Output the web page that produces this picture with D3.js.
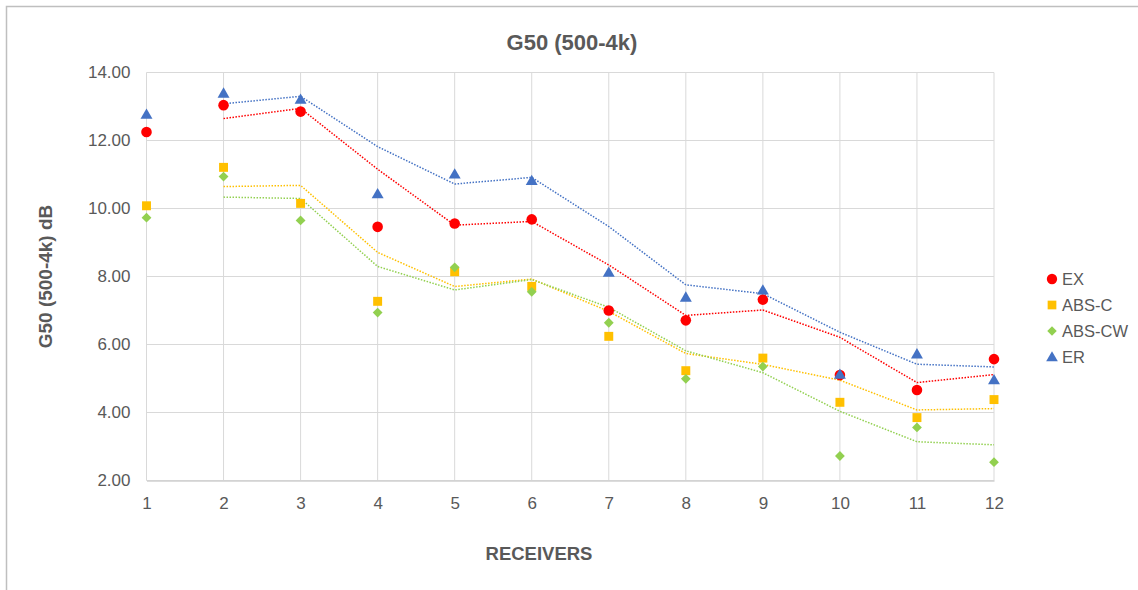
<!DOCTYPE html>
<html>
<head>
<meta charset="utf-8">
<script src="https://cdn.jsdelivr.net/npm/d3@7"></script>
<style>
html,body{margin:0;padding:0;background:#fff;}
svg{display:block;font-family:"Liberation Sans",Arial,Helvetica,sans-serif;}
</style>
</head>
<body>
<svg id="chart" width="1138" height="590"></svg>
<script>
const receivers = [1,2,3,4,5,6,7,8,9,10,11,12];
const yTicks = [2,4,6,8,10,12,14];
const seriesNames = ["EX","ABS-C","ABS-CW","ER"];
const seriesColors = ["#FF0000","#FFC000","#92D050","#4472C4"];
const exValues    = [12.25,13.04,12.85,9.46,9.56,9.68,7.00,6.71,7.32,5.10,4.66,5.57];
const absCValues  = [10.08,11.21,10.15,7.27,8.14,7.71,6.24,5.23,5.60,4.30,3.85,4.38];
const absCWValues = [9.73,10.94,9.65,6.94,8.27,7.55,6.64,4.99,5.35,2.72,3.56,2.54];
const erValues    = [12.77,13.39,13.21,10.43,11.01,10.82,8.12,7.39,7.60,5.12,5.72,4.96];
const seriesValues = [exValues, absCValues, absCWValues, erValues];

(function(){
const squareDiamond = {
  draw(ctx, size){
    const r = Math.sqrt(size/2);
    ctx.moveTo(0,-r); ctx.lineTo(r,0); ctx.lineTo(0,r); ctx.lineTo(-r,0); ctx.closePath();
  }
};
const symbols = [d3.symbolCircle, d3.symbolSquare, squareDiamond, d3.symbolTriangle];
const symSizes = [88, 80, 48, 62];

const svg = d3.select("#chart");
const W = 1138, H = 590;
const pl = 146.5, pr = 994, pt = 72.5, pb = 480.5;

// outer frame
svg.append("rect").attr("x",6.5).attr("y",6.5).attr("width",W+20).attr("height",H+20)
  .attr("fill","#fff").attr("stroke","#bfbfbf").attr("stroke-width",1.5);

const x = d3.scaleLinear().domain([1,12]).range([pl,pr]);
const y = d3.scaleLinear().domain([2,14]).range([pb,pt]);

// gridlines
const g = svg.append("g");
g.selectAll(".hg").data(yTicks).enter().append("line")
  .attr("x1",pl).attr("x2",pr).attr("y1",d=>y(d)).attr("y2",d=>y(d))
  .attr("stroke","#d9d9d9").attr("stroke-width",1);
g.selectAll(".vg").data(receivers).enter().append("line")
  .attr("y1",pt).attr("y2",pb).attr("x1",d=>x(d)).attr("x2",d=>x(d))
  .attr("stroke","#d9d9d9").attr("stroke-width",1);

// axes via d3
const yAxis = d3.axisLeft(y).tickValues(yTicks).tickFormat(d3.format(".2f")).tickSize(0).tickPadding(16);
const ya = svg.append("g").attr("transform",`translate(${pl},0)`).call(yAxis);
ya.select(".domain").remove();
ya.selectAll("text").attr("fill","#595959").style("font-size","17px");

const xAxis = d3.axisBottom(x).tickValues(receivers).tickFormat(d3.format("d")).tickSize(0).tickPadding(16);
const xa = svg.append("g").attr("transform",`translate(0,${pb})`).call(xAxis);
xa.select(".domain").attr("stroke","#d0d0d0").attr("stroke-width",1.5);
xa.selectAll("text").attr("fill","#595959").style("font-size","17px");

// trendlines (2-period moving average)
const line = d3.line().x(d=>x(d[0])).y(d=>y(d[1]));
seriesValues.forEach((vals,i)=>{
  const ma = [];
  for(let k=1;k<vals.length;k++) ma.push([receivers[k],(vals[k]+vals[k-1])/2]);
  svg.append("path").datum(ma).attr("d",line).attr("fill","none")
    .attr("stroke",seriesColors[i]).attr("stroke-width",1.5).attr("stroke-dasharray","1.5,1.5");
});

// markers
seriesValues.forEach((vals,i)=>{
  svg.append("g").selectAll("path").data(vals).enter().append("path")
    .attr("d",d3.symbol().type(symbols[i]).size(symSizes[i]))
    .attr("transform",(d,k)=>`translate(${x(receivers[k])},${y(d) + (i===3?1:0)})`)
    .attr("fill",seriesColors[i]);
});

// title
svg.append("text").attr("x",572).attr("y",50).attr("text-anchor","middle")
  .attr("fill","#595959").style("font-size","22px").style("font-weight","bold").text("G50 (500-4k)");

// axis titles
svg.append("text").attr("transform",`translate(52,${(pt+pb)/2}) rotate(-90)`).attr("text-anchor","middle")
  .attr("fill","#595959").style("font-size","19px").style("font-weight","bold").text("G50 (500-4k) dB");
svg.append("text").attr("x",539).attr("y",560).attr("text-anchor","middle")
  .attr("fill","#595959").style("font-size","18.5px").style("font-weight","bold").text("RECEIVERS");

// legend
const lg = svg.append("g");
seriesNames.forEach((name,i)=>{
  const ly = 279 + i*26;
  lg.append("path").attr("d",d3.symbol().type(symbols[i]).size(symSizes[i]*0.95))
    .attr("transform",`translate(1052,${ly + (i===3?1:0)})`).attr("fill",seriesColors[i]);
  lg.append("text").attr("x",1062).attr("y",ly+6).attr("fill","#595959")
    .style("font-size","16.5px").text(name);
});
})();
</script>
</body>
</html>
